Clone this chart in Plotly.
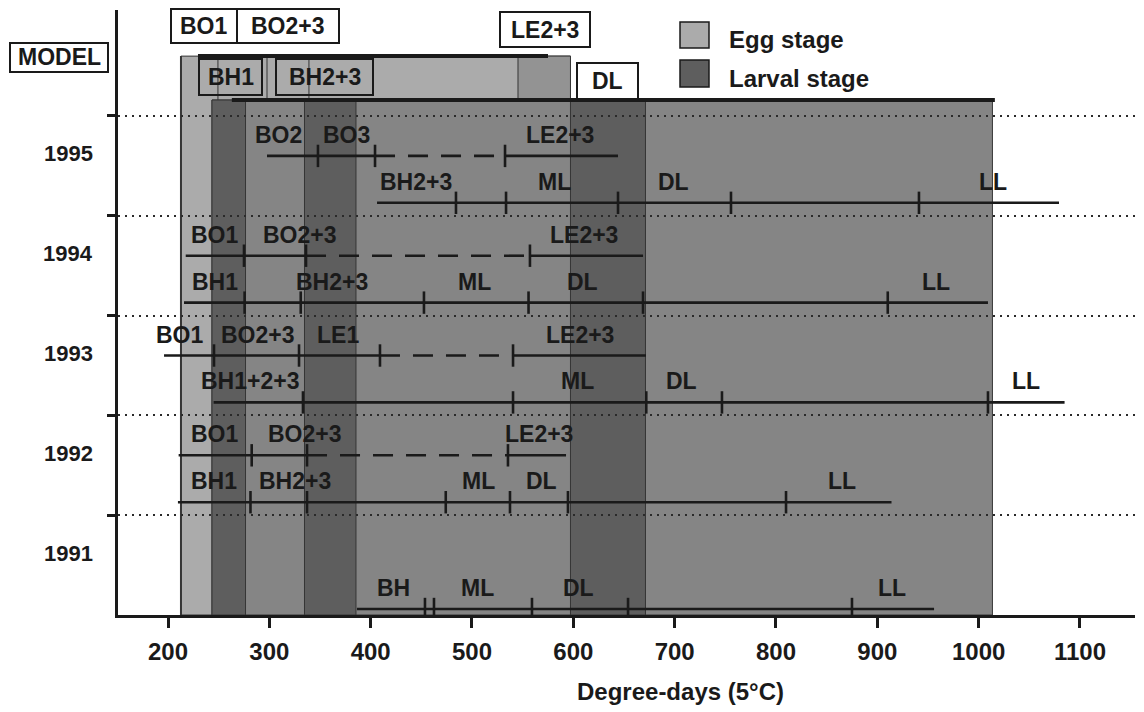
import plotly.graph_objects as go

# ------------------------------------------------------------------
# Data: degree-days (5 °C) at which each development event was seen
# ------------------------------------------------------------------
years = [1995, 1994, 1993, 1992, 1991]

# Egg-stage rows (BO = blastopore closure groups, LE = late embryo)
egg_years = [1995, 1994, 1993, 1992]
egg_start = [297.7, 217.5, 196.1, 210.5]
egg_end = [644.1, 668.8, 671.7, 592.8]
egg_gap_start = [404.3, 336.2, 409.2, 337.2]
egg_gap_end = [532.6, 557.2, 540.5, 535.5]
egg_ticks = [
    [348.0, 404.3, 532.6],
    [275.0, 336.2, 557.2],
    [245.4, 329.3, 409.2, 540.5],
    [282.6, 337.2, 535.5],
]
egg_labels = [
    ["BO2", "BO3", "LE2+3"],
    ["BO1", "BO2+3", "LE2+3"],
    ["BO1", "BO2+3", "LE1", "LE2+3"],
    ["BO1", "BO2+3", "LE2+3"],
]
egg_label_x = [
    [309.1, 376.6, 586.9],
    [245.9, 329.8, 610.5],
    [212.3, 288.8, 367.3, 607.0],
    [245.9, 335.2, 566.6],
]

# Larval rows (BH = hatching, ML / DL / LL = larval phases)
larval_years = [1995, 1994, 1993, 1992, 1991]
larval_start = [406.3, 215.8, 245.0, 209.8, 386.5]
larval_end = [1079.3, 1009.2, 1084.8, 914.0, 956.0]
larval_ticks = [
    [484.2, 533.6, 644.1, 755.6, 941.1],
    [275.6, 331.0, 452.6, 555.8, 668.8, 910.3],
    [333.2, 540.5, 672.0, 746.7, 1009.2],
    [281.4, 337.2, 474.1, 537.5, 594.7, 809.9],
    [453.6, 462.5, 559.2, 654.0, 875.0],
]
larval_labels = [
    ["BH2+3", "ML", "DL", "LL"],
    ["BH1", "BH2+3", "ML", "DL", "LL"],
    ["BH1+2+3", "ML", "DL", "LL"],
    ["BH1", "BH2+3", "ML", "DL", "LL"],
    ["BH", "ML", "DL", "LL"],
]
larval_label_x = [
    [444.7, 581.9, 698.9, 1014.2],
    [245.9, 362.3, 502.0, 609.5, 957.9],
    [281.4, 604.6, 707.2, 1046.7],
    [245.4, 325.8, 506.4, 568.1, 865.2],
    [423.0, 505.0, 605.1, 914.5],
]

# Model prediction (shaded background)
model_egg = [212.8, 597.2]
model_larval = [243.4, 1013.6]
model_dark_names = ["BH1", "BH2+3", "DL"]
model_dark_start = [243.4, 334.7, 597.2]
model_dark_end = [276.5, 385.5, 671.2]
model_le_window = [545.4, 597.2]
model_egg_marks = [249.3, 297.7, 339.1]
model_egg_bar = [229.6, 575.0]
model_larval_bar = [263.0, 1016.0]

x_ticks = [200, 300, 400, 500, 600, 700, 800, 900, 1000, 1100]

# ------------------------------------------------------------------
# Styling / layout
# ------------------------------------------------------------------
INK = "#1a1a1a"
LIGHT = "#ababab"
MEDIUM = "#858585"
DARK = "#5e5e5e"
PATCH = "#939393"
EDGE = "#353535"
FONT = "Liberation Sans"

ROW_EGG = 0.10
ROW_LARVAL = -0.37
ROW_LARVAL_1991 = -0.44
LABEL_SHIFT = 21

Y_BOTTOM = 1990.5
Y_TOP = 1996.562
Y_LARVAL_TOP = 1995.66
Y_EGG_TOP = 1996.10

L, T, W, H = 118, 10, 1017, 605


def pxx(px):
    return (px - L) / W


def pxy(py):
    return (T + H - py) / H


fig = go.Figure()

# --- model shading --------------------------------------------------
fig.add_shape(type="rect", x0=model_egg[0], x1=model_egg[1], y0=Y_BOTTOM, y1=Y_EGG_TOP,
              fillcolor=LIGHT, line=dict(color=EDGE, width=1), layer="below")
fig.add_shape(type="line", x0=model_egg[0], x1=model_egg[0], y0=Y_BOTTOM, y1=Y_EGG_TOP,
              line=dict(color=EDGE, width=2), layer="below")
fig.add_shape(type="rect", x0=model_le_window[0], x1=model_le_window[1],
              y0=Y_LARVAL_TOP, y1=Y_EGG_TOP,
              fillcolor=PATCH, line=dict(color=EDGE, width=1), layer="below")
for xm in model_egg_marks:
    fig.add_shape(type="line", x0=xm, x1=xm, y0=Y_LARVAL_TOP, y1=Y_EGG_TOP,
                  line=dict(color=EDGE, width=1), layer="below")
fig.add_shape(type="rect", x0=model_larval[0], x1=model_larval[1], y0=Y_BOTTOM, y1=Y_LARVAL_TOP,
              fillcolor=MEDIUM, line=dict(color=EDGE, width=1), layer="below")
for x0, x1 in zip(model_dark_start, model_dark_end):
    fig.add_shape(type="rect", x0=x0, x1=x1, y0=Y_BOTTOM, y1=Y_LARVAL_TOP,
                  fillcolor=DARK, line=dict(color=EDGE, width=1), layer="below")

# heavy bars along the top of the egg and larval model blocks
fig.add_shape(type="line", x0=model_egg_bar[0], x1=model_egg_bar[1], y0=Y_EGG_TOP, y1=Y_EGG_TOP,
              line=dict(color=INK, width=4), layer="above")
fig.add_shape(type="line", x0=model_larval_bar[0], x1=model_larval_bar[1],
              y0=Y_LARVAL_TOP, y1=Y_LARVAL_TOP,
              line=dict(color=INK, width=4), layer="above")


# --- observation rows ----------------------------------------------
def add_line(xs, y, dash="solid"):
    fig.add_trace(go.Scatter(x=xs, y=[y] * len(xs), mode="lines",
                             line=dict(color=INK, width=2.6, dash=dash),
                             hoverinfo="skip", showlegend=False))


tick_x, tick_y = [], []
annotations = []


def text_ann(text, x, y, xref, yref, size=23, xanchor="center", yshift=0):
    annotations.append(dict(x=x, y=y, xref=xref, yref=yref, text="<b>%s</b>" % text,
                            showarrow=False, xanchor=xanchor, yanchor="middle",
                            yshift=yshift,
                            font=dict(family=FONT, size=size, color=INK)))


for i, yr in enumerate(egg_years):
    y = yr + ROW_EGG
    add_line([egg_start[i], egg_gap_start[i]], y)
    add_line([egg_gap_start[i], egg_gap_end[i]], y, dash="20px,13px")
    add_line([egg_gap_end[i], egg_end[i]], y)
    tick_x += egg_ticks[i]
    tick_y += [y] * len(egg_ticks[i])
    for t, xl in zip(egg_labels[i], egg_label_x[i]):
        text_ann(t, xl, y, "x", "y", yshift=LABEL_SHIFT)

for i, yr in enumerate(larval_years):
    y = yr + (ROW_LARVAL_1991 if yr == 1991 else ROW_LARVAL)
    add_line([larval_start[i], larval_end[i]], y)
    tick_x += larval_ticks[i]
    tick_y += [y] * len(larval_ticks[i])
    for t, xl in zip(larval_labels[i], larval_label_x[i]):
        text_ann(t, xl, y, "x", "y", yshift=LABEL_SHIFT)

fig.add_trace(go.Scatter(x=tick_x, y=tick_y, mode="markers",
                         marker=dict(symbol="line-ns", size=16,
                                     line=dict(color=INK, width=2.6)),
                         hoverinfo="skip", showlegend=False))

# --- year labels -------------------------------------------------------
for yr in years:
    text_ann(str(yr), pxx(68), yr + 0.12, "paper", "y", size=22)

# --- header boxes (model events) --------------------------------------
header_boxes = [
    ("MODEL", 10, 108, 43, 72, "white"),
    ("BO1", 171, 237, 9, 43, "white"),
    ("BO2+3", 237, 339, 9, 43, "white"),
    ("LE2+3", 500, 590, 12, 47, "white"),
    ("BH1", 199, 262, 59, 95, "rgba(0,0,0,0)"),
    ("BH2+3", 276, 373, 59, 95, "rgba(0,0,0,0)"),
    ("DL", 577, 638, 63, 99, "white"),
]
for text, x0, x1, y0, y1, fill in header_boxes:
    fig.add_shape(type="rect", xref="paper", yref="paper",
                  x0=pxx(x0), x1=pxx(x1), y0=pxy(y1), y1=pxy(y0),
                  fillcolor=fill, line=dict(color=INK, width=2), layer="above")
    text_ann(text, pxx((x0 + x1) / 2), pxy((y0 + y1) / 2), "paper", "paper")

# --- legend -----------------------------------------------------------
legend_items = [("Egg stage", LIGHT, 22, 48, 40), ("Larval stage", DARK, 60, 87, 78)]
for text, color, y0, y1, yc in legend_items:
    fig.add_shape(type="rect", xref="paper", yref="paper",
                  x0=pxx(680), x1=pxx(709), y0=pxy(y1), y1=pxy(y0),
                  fillcolor=color, line=dict(color=INK, width=1.5), layer="above")
    text_ann(text, pxx(727), pxy(yc), "paper", "paper", size=24, xanchor="left")

# --- axis title ---------------------------------------------------------
text_ann("Degree-days (5°C)", pxx(680), pxy(691), "paper", "paper", size=24)

fig.update_layout(
    width=1144, height=712,
    margin=dict(l=L, r=1144 - L - W, t=T, b=712 - T - H),
    paper_bgcolor="white", plot_bgcolor="white",
    showlegend=False,
    annotations=annotations,
    xaxis=dict(range=[150.66, 1154.3], tickvals=x_ticks, ticks="outside",
               ticklen=10, tickwidth=2.5, tickcolor=INK,
               tickfont=dict(family=FONT, size=24, color=INK, weight="bold"),
               ticklabelstandoff=3,
               showline=True, linewidth=2.8, linecolor=INK,
               showgrid=False, zeroline=False),
    yaxis=dict(range=[Y_BOTTOM, Y_TOP], tickvals=[y + 0.5 for y in years],
               ticks="outside", ticklen=8, tickwidth=2.5, tickcolor=INK,
               showticklabels=False, showline=True, linewidth=2.8, linecolor=INK,
               showgrid=True, gridcolor="#2a2a2a", gridwidth=1.6, griddash="2px,5px",
               zeroline=False),
)

fig.write_html("out.html")
